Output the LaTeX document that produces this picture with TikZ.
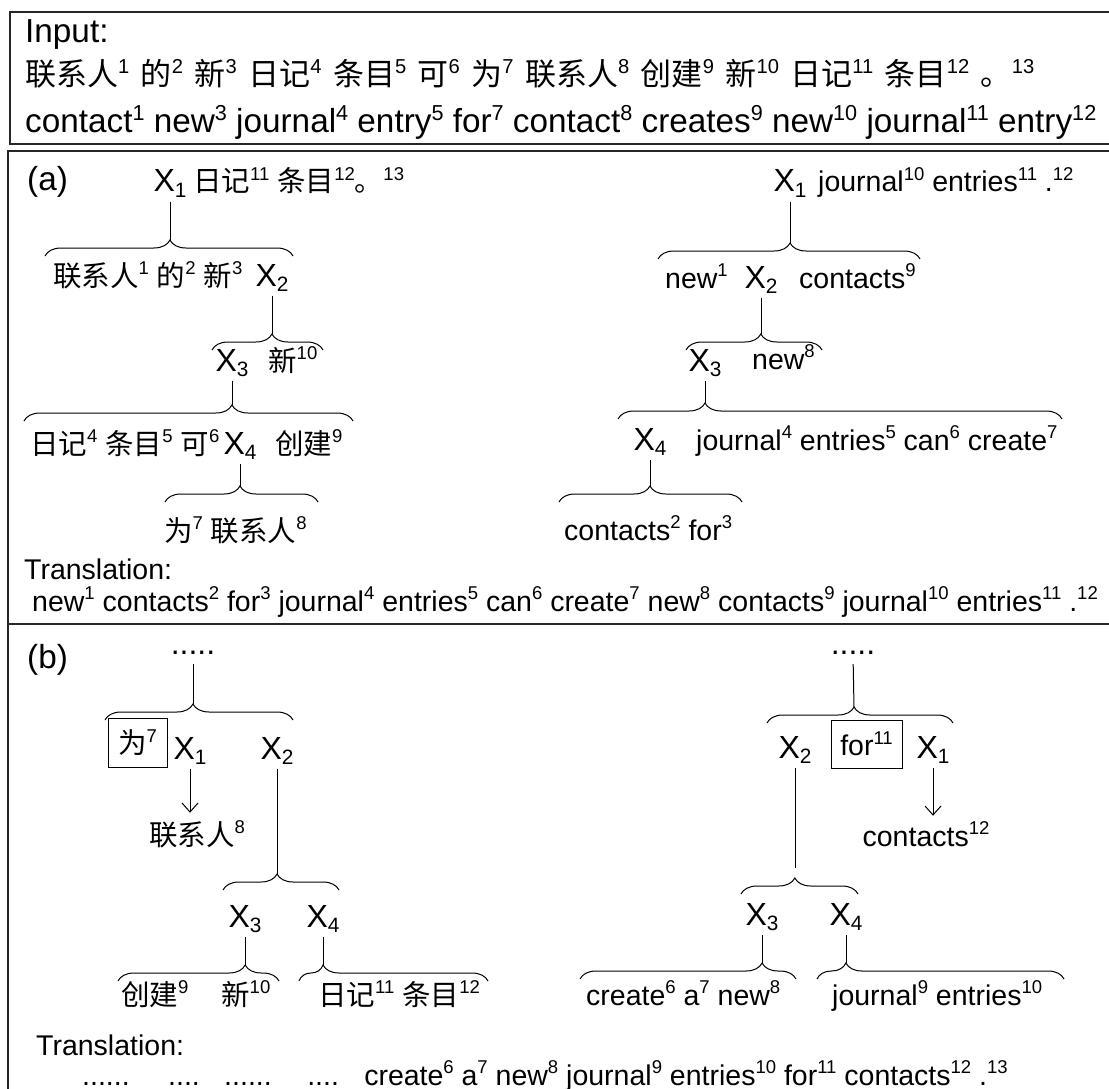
\documentclass[tikz,border=0pt]{standalone}
\usepackage{fontspec}
\setmainfont{Liberation Sans}
\newfontfamily\cjk{Noto Sans CJK SC}
\usetikzlibrary{decorations.pathreplacing,arrows.meta}
\makeatletter
\newcommand\su[1]{\raisebox{0.39em}{\rmfamily\fontsize{\fpeval{0.65*\f@size}}{1}\selectfont #1}}
\newcommand\sbb[1]{\raisebox{-0.17em}{\rmfamily\fontsize{\fpeval{0.65*\f@size}}{1}\selectfont #1}}
\makeatother
\newcommand\C[1]{{\cjk #1}}
\newcommand\X[1]{X\sbb{#1}}
\tikzset{
  tx/.style={inner sep=0pt, anchor=base west, font=\fontsize{28.5}{30}\selectfont},
  txc/.style={inner sep=0pt, anchor=base, font=\fontsize{28.5}{30}\selectfont},
  tr/.style={inner sep=0pt, anchor=base west, font=\fontsize{28.5}{31}\selectfont},
  hd/.style={inner sep=0pt, anchor=base west, font=\fontsize{33.3}{35}\selectfont},
  xv/.style={inner xsep=0pt, inner ysep=4pt, anchor=base, font=\fontsize{32}{34}\selectfont},
  frame/.style={line width=1.3pt, draw=black!85},
  conn/.style={line width=1pt},
  brc/.style={line width=1pt, decorate, decoration={brace, amplitude=16pt, aspect=#1}},
  brc/.default=0.5,
  bx/.style={draw, line width=1pt, inner sep=0pt, anchor=center, font=\fontsize{28.5}{30}\selectfont},
  arr/.style={line width=1pt, -{Straight Barb[length=9pt,width=16pt]}},
}
\begin{document}
\begin{tikzpicture}[x=1pt,y=-1pt]
\useasboundingbox (0,0) rectangle (1109,1089);
% frames
\draw[frame] (10,12) rectangle (1130,144);
\draw[frame] (8,151) rectangle (1130,624);
\draw[frame] (8,624) rectangle (1130,1120);
% input
\node[hd] (inp) at (25,43) {Input:};
\node[hd, font=\fontsize{31}{33}\selectfont] (zh) at (25,86) {\spaceskip=11.5pt\relax \C{联系人}\su{1} \C{的}\su{2} \C{新}\su{3} \C{日记}\su{4} \C{条目}\su{5} \C{可}\su{6} \C{为}\su{7} \C{联系人}\su{8} \C{创建}\su{9} \C{新}\su{10} \C{日记}\su{11} \C{条目}\su{12} \C{。}\su{13}};
\node[hd] (en) at (25,133) {contact\su{1} new\su{3} journal\su{4} entry\su{5} for\su{7} contact\su{8} creates\su{9} new\su{10} journal\su{11} entry\su{12}};
% (a) left
\node[hd] (la) at (27,190) {(a)};
\node[xv] (aX1) at (170,192) {\X{1}};
\node[tx] (aT1) at (193,192) {\C{日记}\su{11} \C{条目}\su{12}\C{。}\su{13}};
\coordinate (aB1l) at (45,256); \coordinate (aB1r) at (293,256); \coordinate (aB1t) at (170,240);
\draw[brc=0.504] (aB1l) -- (aB1r);
\draw[conn] (aX1.south) -- (aX1.south |- aB1t);
\node[tx] (aT2) at (53,286) {\C{联系人}\su{1} \C{的}\su{2} \C{新}\su{3}};
\node[xv] (aX2) at (272,286) {\X{2}};
\coordinate (aB2l) at (212,350); \coordinate (aB2r) at (323,350); \coordinate (aB2t) at (272,334);
\draw[brc=0.54] (aB2l) -- (aB2r);
\draw[conn] (aX2.south) -- (aX2.south |- aB2t);
\node[xv] (aX3) at (232,371) {\X{3}};
\node[tx] (aT3) at (268,371) {\C{新}\su{10}};
\coordinate (aB3l) at (24,421); \coordinate (aB3r) at (353,421); \coordinate (aB3t) at (232,405);
\draw[brc=0.632] (aB3l) -- (aB3r);
\draw[conn] (aX3.south) -- (aX3.south |- aB3t);
\node[tx] (aT4a) at (30,454) {\C{日记}\su{4} \C{条目}\su{5} \C{可}\su{6}};
\node[xv] (aX4) at (240,454) {\X{4}};
\node[tx] (aT4b) at (275,454) {\C{创建}\su{9}};
\coordinate (aB4l) at (165,502); \coordinate (aB4r) at (318,502); \coordinate (aB4t) at (240,486);
\draw[brc=0.49] (aB4l) -- (aB4r);
\draw[conn] (aX4.south) -- (aX4.south |- aB4t);
\node[tx] (aT5) at (164,541) {\C{为}\su{7} \C{联系人}\su{8}};
% (a) right
\node[xv] (rX1) at (790,192) {\X{1}};
\node[tx] (rT1) at (818,192) {journal\su{10} entries\su{11} .\su{12}};
\coordinate (rB1l) at (658,259); \coordinate (rB1r) at (920,259); \coordinate (rB1t) at (790,243);
\draw[brc=0.504] (rB1l) -- (rB1r);
\draw[conn] (rX1.south) -- (rX1.south |- rB1t);
\node[tx] (rT2a) at (665,288) {new\su{1}};
\node[xv] (rX2) at (761,288) {\X{2}};
\node[tx] (rT2b) at (799,288) {contacts\su{9}};
\coordinate (rB2l) at (686,350); \coordinate (rB2r) at (822,350); \coordinate (rB2t) at (761,334);
\draw[brc=0.55] (rB2l) -- (rB2r);
\draw[conn] (rX2.south) -- (rX2.south |- rB2t);
\node[xv] (rX3) at (705,371) {\X{3}};
\node[tx] (rT3) at (752,369) {new\su{8}};
\coordinate (rB3l) at (618,419); \coordinate (rB3r) at (1062,419); \coordinate (rB3t) at (705,403);
\draw[brc=0.196] (rB3l) -- (rB3r);
\draw[conn] (rX3.south) -- (rX3.south |- rB3t);
\node[xv] (rX4) at (650,450) {\X{4}};
\node[tx] (rT4) at (696,450) {journal\su{4} entries\su{5} can\su{6} create\su{7}};
\coordinate (rB4l) at (559,502); \coordinate (rB4r) at (742,502); \coordinate (rB4t) at (650,486);
\draw[brc=0.497] (rB4l) -- (rB4r);
\draw[conn] (rX4.south) -- (rX4.south |- rB4t);
\node[tx] (rT5) at (564,540) {contacts\su{2} for\su{3}};
% translation (a)
\node[tr] (trA) at (24,579) {Translation:};
\node[tr] (trAl) at (32,611) {new\su{1} contacts\su{2} for\su{3} journal\su{4} entries\su{5} can\su{6} create\su{7} new\su{8} contacts\su{9} journal\su{10} entries\su{11} .\su{12}};
% (b) left
\node[hd] (lb) at (27,668) {(b)};
\node[txc, font=\fontsize{32}{34}\selectfont] (bD) at (193,654) {.....};
\coordinate (bB0l) at (105,720); \coordinate (bB0r) at (293,720); \coordinate (bB0t) at (193,704);
\draw[brc=0.468] (bB0l) -- (bB0r);
\draw[conn, shorten <=10pt] (bD.south) -- (bB0t);
\node[bx, minimum width=59pt, minimum height=49pt] (bW) at (137.5,742.5) {\C{为}\su{7}};
\node[xv] (bX1) at (190,759) {\X{1}};
\node[xv] (bX2) at (277,759) {\X{2}};
\node[txc] (bZ) at (197,845) {\C{联系人}\su{8}};
\draw[arr] (bX1.south) -- ([yshift=8pt]bZ.north -| bX1.south);
\coordinate (bB2l) at (223,890); \coordinate (bB2r) at (339,890); \coordinate (bB2t) at (277,874);
\draw[brc=0.466] (bB2l) -- (bB2r);
\draw[conn] (bX2.south) -- (bX2.south |- bB2t);
\node[xv] (bX3) at (245,927) {\X{3}};
\node[xv] (bX4) at (323,927) {\X{4}};
\coordinate (bB3l) at (118,981); \coordinate (bB3r) at (279,981); \coordinate (bB3t) at (245,965);
\draw[brc=0.79] (bB3l) -- (bB3r);
\draw[conn] (bX3.south) -- (bX3.south |- bB3t);
\coordinate (bB4l) at (299,981); \coordinate (bB4r) at (488,981); \coordinate (bB4t) at (323,965);
\draw[brc=0.127] (bB4l) -- (bB4r);
\draw[conn] (bX4.south) -- (bX4.south |- bB4t);
\node[tx] (bT3a) at (121,1005) {\C{创建}\su{9}};
\node[tx] (bT3b) at (221,1005) {\C{新}\su{10}};
\node[tx] (bT4) at (318,1005) {\C{日记}\su{11} \C{条目}\su{12}};
% (b) right
\node[txc, font=\fontsize{32}{34}\selectfont] (cD) at (853,654) {.....};
\coordinate (cB0l) at (767,723); \coordinate (cB0r) at (953,723); \coordinate (cB0t) at (854,707);
\draw[brc=0.468] (cB0l) -- (cB0r);
\draw[conn, shorten <=10pt] (cD.south) -- (cB0t);
\node[xv] (cX2) at (795,758) {\X{2}};
\node[bx, minimum width=71pt, minimum height=48pt] (cF) at (866.5,744) {for\su{11}};
\node[xv] (cX1) at (933,758) {\X{1}};
\node[txc] (cZ) at (926,846) {contacts\su{12}};
\draw[arr] (cX1.south) -- ([yshift=6pt]cZ.north -| cX1.south);
\coordinate (cB2l) at (741,894); \coordinate (cB2r) at (858,894); \coordinate (cB2t) at (795,878);
\draw[brc=0.46] (cB2l) -- (cB2r);
\draw[conn, shorten >=10pt] (cX2.south) -- (cX2.south |- cB2t);
\node[xv] (cX3) at (762,925) {\X{3}};
\node[xv] (cX4) at (846,925) {\X{4}};
\coordinate (cB3l) at (580,979); \coordinate (cB3r) at (796,979); \coordinate (cB3t) at (762,963);
\draw[brc=0.843] (cB3l) -- (cB3r);
\draw[conn] (cX3.south) -- (cX3.south |- cB3t);
\coordinate (cB4l) at (817,979); \coordinate (cB4r) at (1064,979); \coordinate (cB4t) at (846,963);
\draw[brc=0.117] (cB4l) -- (cB4r);
\draw[conn] (cX4.south) -- (cX4.south |- cB4t);
\node[tx] (cT3) at (586,1005) {create\su{6} a\su{7} new\su{8}};
\node[tx] (cT4) at (832,1005) {journal\su{9} entries\su{10}};
% translation (b)
\node[tr] (trB) at (36,1055) {Translation:};
\node[tr] (trBl) at (82,1085) {\makebox[86pt][l]{......}\makebox[56pt][l]{....}\makebox[83pt][l]{......}\makebox[57pt][l]{....}create\su{6} a\su{7} new\su{8} journal\su{9} entries\su{10} for\su{11} contacts\su{12} .\su{13}};
\end{tikzpicture}
\end{document}
